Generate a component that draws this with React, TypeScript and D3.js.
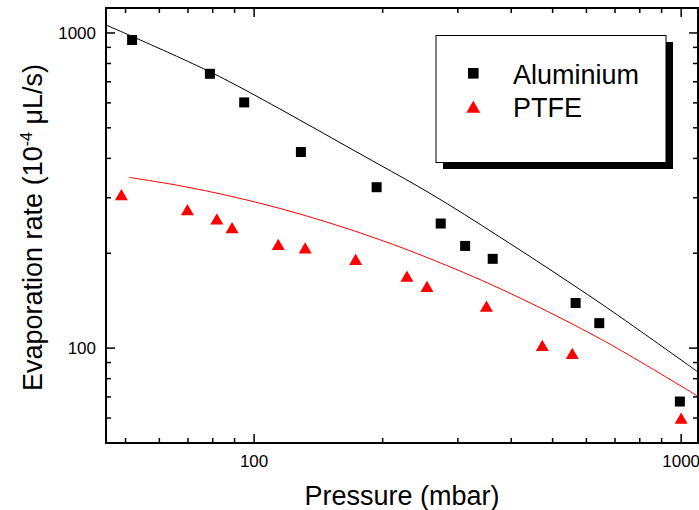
import React from "react";
import * as d3 from "d3";

// ---- data ----
const aluminiumPressure = [51.8, 78.8, 94.8, 128.7, 193.6, 273.5, 312, 362, 566, 643, 993];
const aluminiumRate = [950, 742, 602, 419, 324, 248.5, 211, 192, 139, 120, 67.7];

const ptfePressure = [48.9, 69.8, 81.8, 88.8, 113.9, 131.7, 172.9, 228, 254, 350, 473, 556, 1000];
const ptfeRate = [307, 275, 257, 241, 213.5, 208, 191.4, 169.3, 157, 136, 102, 96.2, 60];

// fitted model curves
const aluminiumFitPressure = [45, 78.8, 114.9, 170.6, 258, 376.5, 646, 1095];
const aluminiumFitRate = [1060, 753, 574, 425, 310, 225, 139, 84];

const ptfeFitPressure = [51.1, 67, 87.7, 114.9, 150.5, 197, 258, 376.5, 646, 1095];
const ptfeFitRate = [347.9, 327.6, 303.9, 277.5, 249.4, 220.8, 192.3, 154.5, 107.1, 70.3];

const xMajorTicks = [100, 1000];
const yMajorTicks = [100, 1000];
const xMinorTicks = [50, 60, 70, 80, 90, 200, 300, 400, 500, 600, 700, 800, 900];
const yMinorTicks = [60, 70, 80, 90, 200, 300, 400, 500, 600, 700, 800, 900];

const seriesNames = ["Aluminium", "PTFE"];
const xLabel = "Pressure (mbar)";

const FONT = "'Liberation Sans', Arial, Helvetica, sans-serif";

const W = 699;
const H = 510;
const L = 106;
const R = 698;
const T = 8;
const B = 443;

function tri(cx: number, cy: number, s: number) {
  const h = (s * Math.sqrt(3)) / 2;
  return `M${cx},${cy - h / 2}L${cx + s / 2},${cy + h / 2}L${cx - s / 2},${cy + h / 2}Z`;
}

export default function App() {
  const x = d3.scaleLog().domain([45, 1095]).range([L, R]);
  const y = d3.scaleLog().domain([50, 1200]).range([B, T]);

  const line = d3
    .line<[number, number]>()
    .x((d) => x(d[0]))
    .y((d) => y(d[1]))
    .curve(d3.curveCatmullRom.alpha(0.5));

  const alFit = line(aluminiumFitPressure.map((p, i) => [p, aluminiumFitRate[i]] as [number, number])) || "";
  const ptFit = line(ptfeFitPressure.map((p, i) => [p, ptfeFitRate[i]] as [number, number])) || "";

  const majorLen = 9;
  const minorLen = 5;

  return (
    <svg
      width={W}
      height={H}
      style={{ position: "absolute", left: 0, top: 0, background: "#fff" }}
      fontFamily={FONT}
    >
      <defs>
        <clipPath id="plot">
          <rect x={L} y={T} width={R - L} height={B - T} />
        </clipPath>
      </defs>

      {/* fit lines */}
      <g clipPath="url(#plot)">
        <path d={alFit} fill="none" stroke="#000" strokeWidth={1} />
        <path d={ptFit} fill="none" stroke="#ff0000" strokeWidth={1} />
      </g>

      {/* data points */}
      {aluminiumPressure.map((p, i) => (
        <rect
          key={"a" + i}
          x={x(p) - 5}
          y={y(aluminiumRate[i]) - 5}
          width={10}
          height={10}
          fill="#000"
        />
      ))}
      {ptfePressure.map((p, i) => (
        <path key={"p" + i} d={tri(x(p), y(ptfeRate[i]), 13)} fill="#ff0000" />
      ))}

      {/* ticks */}
      <g stroke="#000" strokeWidth={1.5}>
        {xMajorTicks.map((t) => (
          <g key={"xm" + t}>
            <line x1={x(t)} x2={x(t)} y1={B} y2={B - majorLen} />
            <line x1={x(t)} x2={x(t)} y1={T} y2={T + majorLen} />
          </g>
        ))}
        {xMinorTicks.map((t) => (
          <g key={"xn" + t}>
            <line x1={x(t)} x2={x(t)} y1={B} y2={B - minorLen} />
            <line x1={x(t)} x2={x(t)} y1={T} y2={T + minorLen} />
          </g>
        ))}
        {yMajorTicks.map((t) => (
          <g key={"ym" + t}>
            <line x1={L} x2={L + majorLen} y1={y(t)} y2={y(t)} />
            <line x1={R} x2={R - majorLen} y1={y(t)} y2={y(t)} />
          </g>
        ))}
        {yMinorTicks.map((t) => (
          <g key={"yn" + t}>
            <line x1={L} x2={L + minorLen} y1={y(t)} y2={y(t)} />
            <line x1={R} x2={R - minorLen} y1={y(t)} y2={y(t)} />
          </g>
        ))}
      </g>

      {/* frame */}
      <rect x={L} y={T} width={R - L} height={B - T} fill="none" stroke="#000" strokeWidth={2} />

      {/* tick labels */}
      {xMajorTicks.map((t) => (
        <text key={"xl" + t} x={x(t)} y={467} fontSize={17} textAnchor="middle" fill="#000">
          {t}
        </text>
      ))}
      {yMajorTicks.map((t) => (
        <text
          key={"yl" + t}
          x={96}
          y={y(t)}
          dy="0.35em"
          fontSize={17}
          textAnchor="end"
          fill="#000"
        >
          {t}
        </text>
      ))}

      {/* axis titles */}
      <text x={(L + R) / 2} y={505} fontSize={27} textAnchor="middle" fill="#000">
        {xLabel}
      </text>
      <text
        transform={`translate(42, ${(T + B) / 2 + 2}) rotate(-90)`}
        fontSize={27}
        textAnchor="middle"
        fill="#000"
      >
        Evaporation rate (10
        <tspan fontSize={16} dy={-10}>
          -4
        </tspan>
        <tspan dy={10}> μL/s)</tspan>
      </text>

      {/* legend */}
      <rect x={443} y={42} width={230} height={127} fill="#000" />
      <rect x={436} y={35.5} width={230} height={127} fill="#fff" stroke="#000" strokeWidth={1} />
      <rect x={473.3 - 5.3} y={73.3 - 5.3} width={10.6} height={10.6} fill="#000" />
      <path d={tri(473.3, 106.7, 14)} fill="#ff0000" />
      <text x={513} y={83.5} fontSize={27} fill="#000">
        {seriesNames[0]}
      </text>
      <text x={513} y={116.7} fontSize={27} fill="#000">
        {seriesNames[1]}
      </text>
    </svg>
  );
}
